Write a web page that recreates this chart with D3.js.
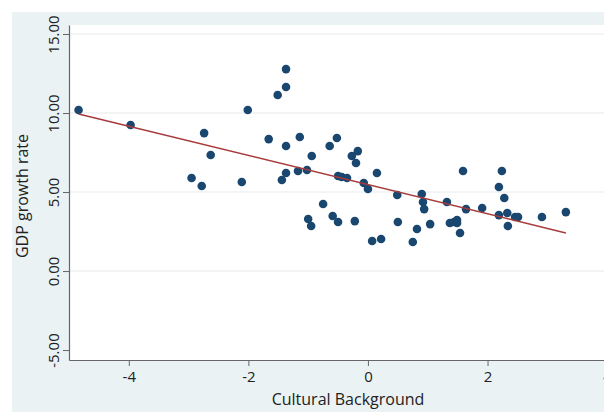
<!DOCTYPE html>
<html>
<head>
<meta charset="utf-8">
<script src="https://cdn.jsdelivr.net/npm/d3@7"></script>
<style>
  body { margin: 0; background: #fff; }
  text { font-family: "Open Sans", sans-serif; }
</style>
</head>
<body>
<div id="chart"></div>
<script>
// Cultural background vs GDP growth rate
const cultural = [-4.84, -3.97, -2.74, -2.63, -2.95, -2.78, -2.11, -2.01, -1.37, -1.37,
  -1.51, -1.66, -1.37, -1.14, -0.94, -1.37, -1.44, -1.17, -1.02, -0.64,
  -0.52, -0.27, -0.17, -0.20, -0.50, -0.44, -0.35, -0.07, 0.15, 0.00,
  0.49, -0.75, -1.00, -0.95, -0.59, -0.50, -0.22, 0.07, 0.22, 0.50,
  1.59, 0.90, 0.92, 0.94, 1.32, 1.64, 1.91, 2.19, 2.19, 2.24,
  0.82, 0.75, 1.04, 1.37, 1.44, 1.49, 1.49, 1.54, 2.28, 2.33,
  2.46, 2.51, 2.34, 2.91, 3.31];
const gdpGrowth = [10.19, 9.24, 8.73, 7.34, 5.89, 5.38, 5.63, 10.19, 12.78, 11.65,
  11.14, 8.35, 7.91, 8.48, 7.28, 6.20, 5.76, 6.33, 6.39, 7.91,
  8.42, 7.28, 7.59, 6.84, 6.01, 5.95, 5.89, 5.57, 6.20, 5.19,
  4.81, 4.24, 3.29, 2.85, 3.48, 3.10, 3.16, 1.90, 2.03, 3.10,
  6.33, 4.87, 4.37, 3.92, 4.37, 3.92, 3.99, 3.54, 5.32, 6.33,
  2.66, 1.84, 2.97, 3.04, 3.10, 3.23, 3.04, 2.41, 4.62, 3.67,
  3.42, 3.42, 2.85, 3.42, 3.73];

// linear fit end points
const fitX = [-4.84, 3.31];
const fitY = [9.94, 2.41];

const xTicks = [-4, -2, 0, 2, 4];
const yTicks = [-5, 0, 5, 10, 15];
const yGrid = [0, 5, 10, 15];

const W = 604, H = 412;
const plot = { left: 69, top: 25, bottom: 360, right: 640 };

const svg = d3.select("#chart").append("svg")
  .attr("width", W)
  .attr("height", H);

// graph region
svg.append("rect")
  .attr("x", 12).attr("y", 12)
  .attr("width", W - 12).attr("height", H - 12)
  .attr("fill", "#eaf2f3");

svg.append("rect")
  .attr("x", plot.left).attr("y", plot.top)
  .attr("width", plot.right - plot.left).attr("height", plot.bottom - plot.top)
  .attr("fill", "#fff");

const x = d3.scaleLinear().domain([-5, 4.55]).range([plot.left, plot.right]);
const y = d3.scaleLinear().domain([-5.63, 15.57]).range([plot.bottom, plot.top]);

// hyphen instead of unicode minus, like the original
const fmtX = d => String(d);
const fmtY = d => d3.format(".2f")(d).replace("\u2212", "-");

// grid
svg.append("g").selectAll("line")
  .data(yGrid)
  .enter().append("line")
  .attr("x1", plot.left).attr("x2", plot.right)
  .attr("y1", d => y(d)).attr("y2", d => y(d))
  .attr("stroke", "#eef1f2")
  .attr("stroke-width", 1.5);

// axes
const xAxis = svg.append("g")
  .attr("transform", "translate(0," + plot.bottom + ")")
  .call(d3.axisBottom(x).tickValues(xTicks).tickFormat(fmtX).tickSize(6).tickSizeOuter(0).tickPadding(5));

const yAxis = svg.append("g")
  .attr("transform", "translate(" + plot.left + ",0)")
  .call(d3.axisLeft(y).tickValues(yTicks).tickFormat(fmtY).tickSize(6).tickSizeOuter(0));

[xAxis, yAxis].forEach(g => {
  g.select(".domain").attr("stroke", "#666").attr("stroke-width", 1.2);
  g.selectAll(".tick line").attr("stroke", "#666");
  g.selectAll(".tick text").attr("fill", "#222").style("font-size", "15px")
    .style("font-family", "'Open Sans', sans-serif");
});

yAxis.selectAll(".tick text")
  .attr("transform", "rotate(-90)")
  .attr("x", 0)
  .attr("y", -10)
  .attr("dy", "0")
  .attr("text-anchor", "middle");

// axis titles
svg.append("text")
  .attr("x", 348).attr("y", 405)
  .attr("text-anchor", "middle")
  .attr("fill", "#222")
  .style("font-size", "16px")
  .text("Cultural Background");

svg.append("text")
  .attr("transform", "translate(28,196) rotate(-90)")
  .attr("text-anchor", "middle")
  .attr("fill", "#222")
  .style("font-size", "16px")
  .text("GDP growth rate");

// points
const points = cultural.map((c, i) => [c, gdpGrowth[i]]);

svg.append("g").selectAll("circle")
  .data(points)
  .enter().append("circle")
  .attr("cx", d => x(d[0]))
  .attr("cy", d => y(d[1]))
  .attr("r", 4.3)
  .attr("fill", "#1a476f");

// fitted line
svg.append("line")
  .attr("x1", x(fitX[0])).attr("y1", y(fitY[0]))
  .attr("x2", x(fitX[1])).attr("y2", y(fitY[1]))
  .attr("stroke", "#a83a3c")
  .attr("stroke-width", 1.5);
</script>
</body>
</html>
